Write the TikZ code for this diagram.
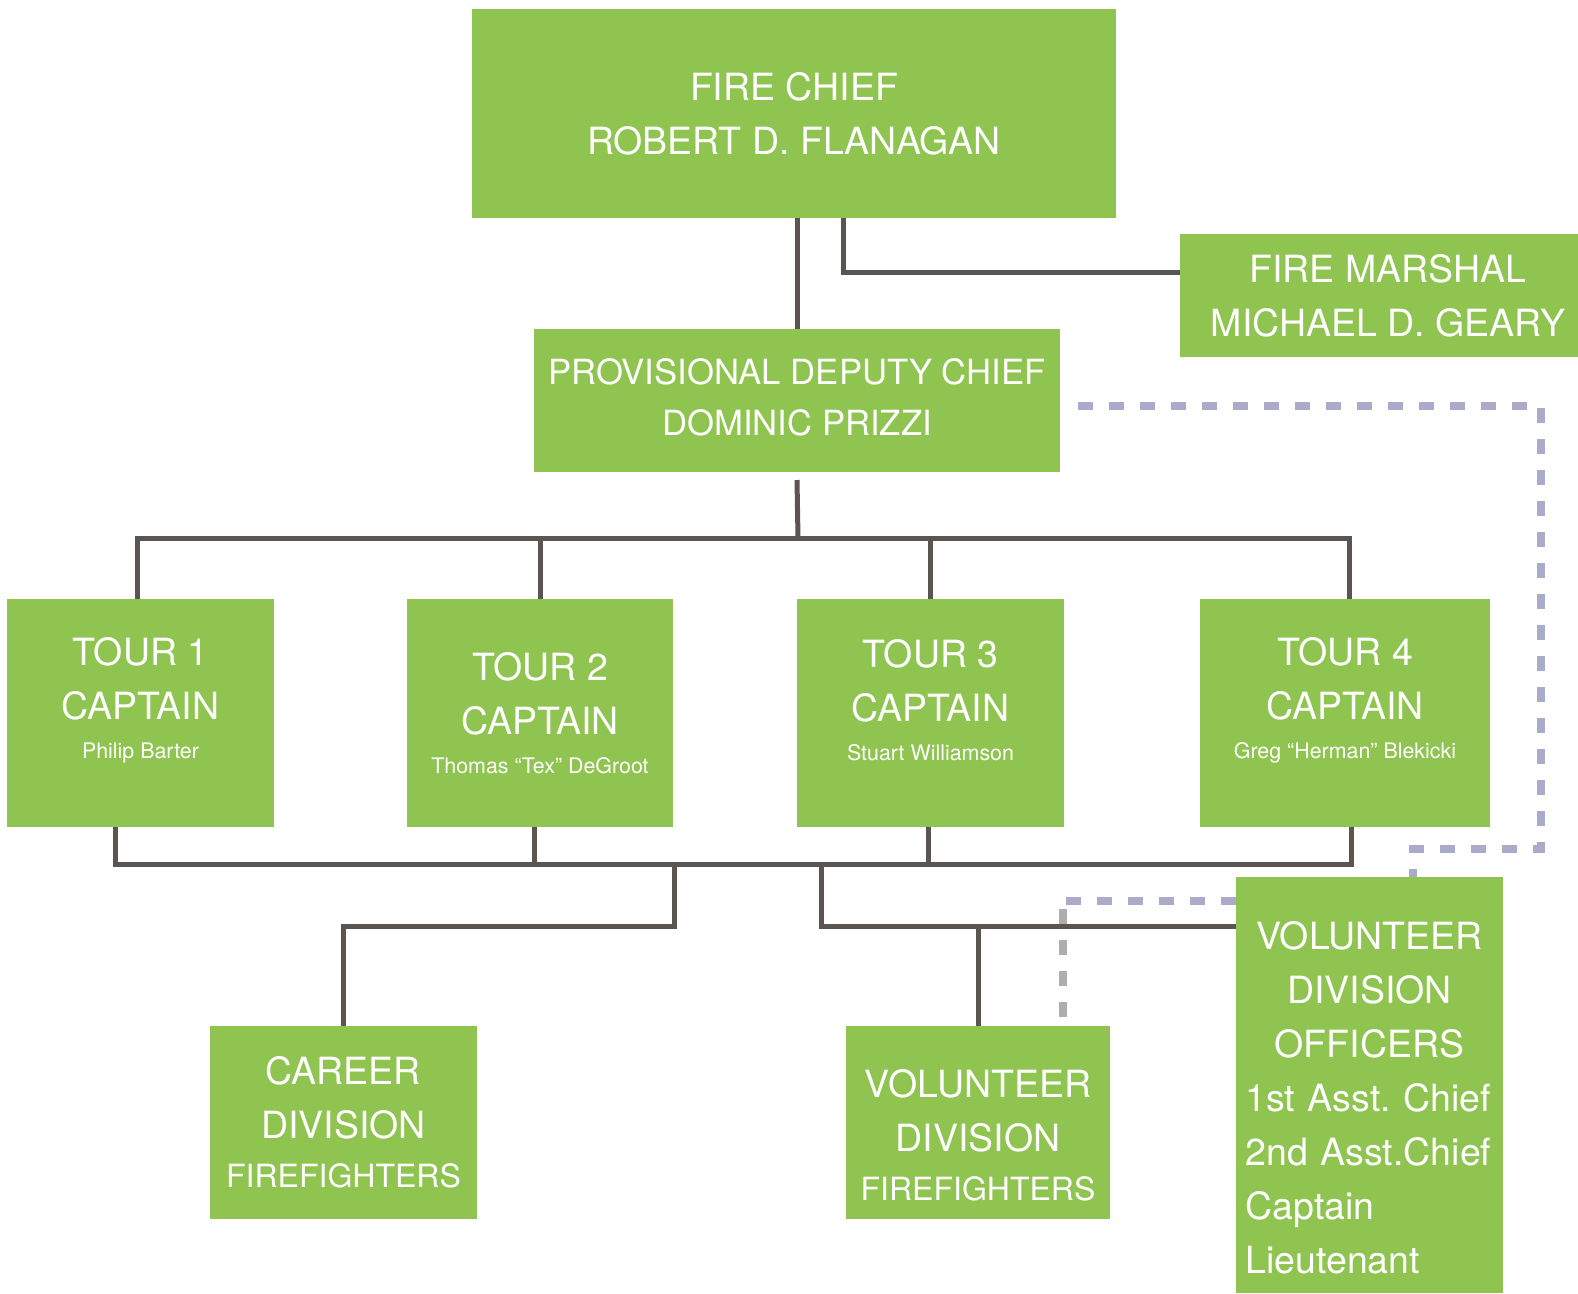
\documentclass[tikz,border=0pt]{standalone}
\usepackage{fontspec}
\setmainfont{TeX Gyre Heros}
\definecolor{unitgreen}{HTML}{8EC44F}
\definecolor{linegray}{HTML}{5A5551}
\definecolor{dashblue}{HTML}{AAAACB}
\definecolor{dashgray}{HTML}{AEAEAE}
\newcommand{\mainsize}{\fontsize{37.5}{54}\selectfont\frenchspacing}
\newcommand{\deputysize}{\fontsize{34.7}{51.5}\selectfont}
\newcommand{\namesize}{\fontsize{21.4}{26}\selectfont}
\newcommand{\crewsize}{\fontsize{32}{40}\selectfont}
\begin{document}
\begin{tikzpicture}[x=1pt,y=-1pt,inner sep=0pt,outer sep=0pt,
unit/.style={fill=unitgreen,text=white,inner sep=0pt,align=center,font=\mainsize},
unittext/.style={text=white,inner sep=0pt,align=center,font=\mainsize},
link/.style={draw=linegray,line width=5pt},
dashlink/.style={draw=dashblue,line width=8pt,dash pattern=on 15pt off 16pt}]
\useasboundingbox[fill=white] (0,0) rectangle (1578,1293);
\draw (794,113.5) node[unit,minimum width=644pt,minimum height=209pt] (chief) {FIRE CHIEF\\ROBERT D. FLANAGAN};
\draw (1379,295.5) node[unit,minimum width=398pt,minimum height=123pt] (marshal) {}
  node[unittext,xshift=9pt] (marshaltxt) {FIRE MARSHAL\\MICHAEL D. GEARY};
\draw (797,400.5) node[unit,font=\deputysize,minimum width=526pt,minimum height=143pt] (deputy) {}
  node[unittext,font=\deputysize,yshift=3pt] (deputytxt) {PROVISIONAL DEPUTY CHIEF\\DOMINIC PRIZZI};
\draw (140.5,713) node[unit,minimum width=267pt,minimum height=228pt] (t1) {}
  node[unittext,yshift=13pt] (t1txt) {TOUR 1\\CAPTAIN\\[-15pt]{\namesize Philip Barter}};
\draw (540,713) node[unit,minimum width=266pt,minimum height=228pt] (t2) {TOUR 2\\CAPTAIN\\[-15pt]{\namesize Thomas “Tex” DeGroot}};
\draw (930.5,713) node[unit,minimum width=267pt,minimum height=228pt] (t3) {}
  node[unittext,yshift=13pt] (t3txt) {TOUR 3\\CAPTAIN\\[-15pt]{\namesize Stuart Williamson}};
\draw (1345,713) node[unit,minimum width=290pt,minimum height=228pt] (t4) {}
  node[unittext,yshift=13pt] (t4txt) {TOUR 4\\CAPTAIN\\[-15pt]{\namesize Greg “Herman” Blekicki}};
\draw (343.5,1122.5) node[unit,minimum width=267pt,minimum height=193pt] (career) {CAREER\\DIVISION\\[-5pt]{\crewsize FIREFIGHTERS}};
\draw (978,1122.5) node[unit,minimum width=264pt,minimum height=193pt] (volff) {}
  node[unittext,yshift=-13pt] (volfftxt) {VOLUNTEER\\DIVISION\\[-5pt]{\crewsize FIREFIGHTERS}};
\draw (1369.5,1085) node[unit,minimum width=267pt,minimum height=416pt] (volo) {}
  node[unittext,yshift=-13pt,align=left,text width=248pt] (volotxt) {\centering VOLUNTEER\\DIVISION\\OFFICERS\par\raggedright 1st Asst. Chief\\2nd Asst.Chief\\Captain\\Lieutenant};
\coordinate (topbus) at (798,538);
\coordinate (lowbus) at (0,864);
\coordinate (cjoin) at (674,864);
\coordinate (vjoin) at (821,864);
\coordinate (vbus) at (821,926);
\coordinate (dashtop) at (1541,406);
\coordinate (dashlow) at (1541,849);
\coordinate (dashmid) at (1059,901);
\coordinate (dashdrop) at (1063,909);
\draw[link] (deputy.north |- chief.south) -- (deputy.north);
\draw[link] ([xshift=49pt]chief.south) |- ([yshift=23.5pt]marshal.west);
\draw[link] ([yshift=-8pt]deputy.south) -- (topbus);
\draw[link] ([xshift=-3.5pt]t1.north) |- ([xshift=4pt]t4.north |- topbus) -- ([xshift=4pt]t4.north);
\draw[link] (t2.north) -- (t2.north |- topbus);
\draw[link] (t3.north) -- (t3.north |- topbus);
\draw[link] ([xshift=-25.5pt]t1.south) |- ([xshift=6pt]t4.south |- lowbus) -- ([xshift=6pt]t4.south);
\draw[link] ([xshift=-6pt]t2.south) -- ([xshift=-6pt]t2.south |- lowbus);
\draw[link] ([xshift=-2.5pt]t3.south) -- ([xshift=-2.5pt]t3.south |- lowbus);
\draw[link] (cjoin) -- ++(0,62) -| (career.north);
\draw[link] (vjoin) -- (vbus) -- (vbus -| volo.west);
\draw[link] (volff.north |- vbus) -- (volff.north);
\draw[dashlink] ([xshift=18pt,yshift=-5.5pt]deputy.east) -- (dashtop) -- (dashlow) -| ([xshift=43.5pt]volo.north);
\draw[dashlink] (dashmid -| volo.west) -- (dashmid);
\draw[dashlink,draw=dashgray] (dashdrop) -- (dashdrop |- volff.north);
\end{tikzpicture}
\end{document}
